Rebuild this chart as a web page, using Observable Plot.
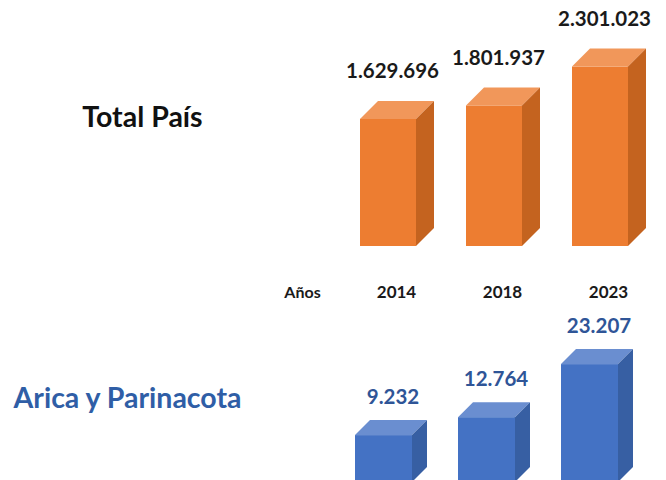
<!DOCTYPE html>
<html>
<head>
<meta charset="utf-8">
<script src="https://cdn.jsdelivr.net/npm/d3@7"></script>
<script src="https://cdn.jsdelivr.net/npm/@observablehq/plot@0.6"></script>
<style>
  html, body { margin: 0; padding: 0; background: #ffffff; }
  #chart { width: 666px; height: 480px; overflow: hidden; position: relative; }
  #chart svg { display: block; }
</style>
</head>
<body>
<div id="chart"></div>
<script>
// ---- data ----
const years = ["2014", "2018", "2023"];
const totalPais = [1629696, 1801937, 2301023];
const arica = [9232, 12764, 23207];
const titleTop = "Total País";
const titleBottom = "Arica y Parinacota";
const axisLabel = "Años";

const fmt = v => d3.format(",")(v).replace(/,/g, ".");
const FONT = "Lato, 'Open Sans', sans-serif";

// 3D faces (top + side) drawn through the plot's scales
function box3d(rows, depth, topColor, sideColor) {
  return (index, scales) => {
    const x = scales.x, y = scales.y;
    const bw = x.bandwidth ? x.bandwidth() : 56;
    const g = d3.create("svg:g");
    for (const r of rows) {
      const xl = x(r.year), xr = xl + bw, yt = y(r.value), yb = y(0);
      g.append("path")
        .attr("d", `M${xl},${yt}L${xr},${yt}L${xr + depth},${yt - depth}L${xl + depth},${yt - depth}Z`)
        .attr("fill", topColor);
      g.append("path")
        .attr("d", `M${xr},${yt}L${xr + depth},${yt - depth}L${xr + depth},${yb - depth}L${xr},${yb}Z`)
        .attr("fill", sideColor);
    }
    return g.node();
  };
}

const topRows = years.map((year, i) => ({year, value: totalPais[i]}));
const botRows = years.map((year, i) => ({year, value: arica[i]}));

const topPlot = Plot.plot({
  width: 666, height: 305, margin: 0,
  style: {fontFamily: FONT, background: "transparent", overflow: "hidden"},
  x: {type: "band", domain: years, range: [359, 628], paddingInner: 0.474, paddingOuter: 0, axis: null},
  y: {domain: [0, 2500000], range: [246, 51], axis: null},
  marks: [
    Plot.barY(topRows, {x: "year", y: "value", fill: "#ED7D31"}),
    box3d(topRows, 18, "#F1975A", "#C4631F"),
    Plot.text(topRows, {x: "year", y: "value", text: d => fmt(d.value), dy: -48, dx: 4,
      fontSize: 20.5, fontWeight: "bold", fill: "#1a1a1a"}),
    Plot.text(topRows, {x: "year", y: () => 0, text: "year", dy: 46, dx: 8,
      fontSize: 17, fontWeight: "bold", fill: "#1a1a1a"}),
    Plot.text([axisLabel], {frameAnchor: "top-left", text: d => d, dx: 302, dy: 292,
      textAnchor: "middle", lineAnchor: "middle", fontSize: 16, fontWeight: "bold", fill: "#1a1a1a"}),
    Plot.text([titleTop], {frameAnchor: "top-left", text: d => d, dx: 142, dy: 117,
      textAnchor: "middle", lineAnchor: "middle", fontSize: 28.5, fontWeight: "bold", fill: "#111111"})
  ]
});

const botPlot = Plot.plot({
  width: 666, height: 175, margin: 0,
  style: {fontFamily: FONT, background: "transparent", overflow: "hidden"},
  x: {type: "band", domain: years, range: [354, 618.6], paddingInner: 0.45, paddingOuter: 0, axis: null},
  y: {domain: [0, 30000], range: [177, 24.6], axis: null},
  marks: [
    Plot.barY(botRows, {x: "year", y: "value", fill: "#4472C4"}),
    box3d(botRows, 15, "#6A8ED0", "#375FA3"),
    Plot.text(botRows, {x: "year", y: "value", text: d => fmt(d.value), dy: -38, dx: 9,
      fontSize: 20.5, fontWeight: "bold", fill: "#2F5597"}),
    Plot.text([titleBottom], {frameAnchor: "top-left", text: d => d, dx: 127, dy: 93,
      textAnchor: "middle", lineAnchor: "middle", fontSize: 28.5, fontWeight: "bold", fill: "#2F5EA6"})
  ]
});

const chart = document.getElementById("chart");
chart.appendChild(topPlot);
chart.appendChild(botPlot);
</script>
</body>
</html>
